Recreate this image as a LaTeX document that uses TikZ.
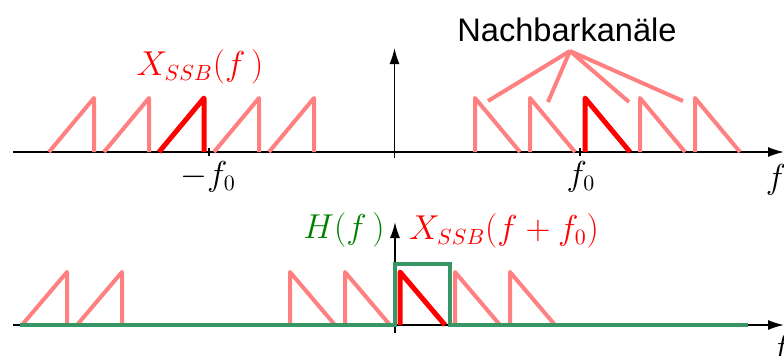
\documentclass[tikz,border=0pt]{standalone}
\usepackage{amsmath, amssymb}
\usepackage{fontspec}
\setsansfont{Liberation Sans}
\usetikzlibrary{arrows, arrows.meta, positioning, calc}

\definecolor{pinkline}{RGB}{255,128,128}
\definecolor{filtgreen}{RGB}{56,150,100}
\definecolor{labgreen}{RGB}{0,128,0}

\begin{document}
\begin{tikzpicture}[x=0.5pt,y=-0.5pt]

\tikzset{axis/.style = {line width=0.75pt,-{Latex[length=8pt,width=5pt]}}}
\tikzset{chan/.style = {pinkline,line width=2pt,line join=round}}
\tikzset{own/.style = {red,line width=2.5pt,line join=round}}
\tikzset{filt/.style = {filtgreen,line width=2pt}}
\tikzset{lab/.style = {font=\fontsize{16}{19}\selectfont,inner sep=0pt}}

\useasboundingbox (0,0) rectangle (784,355);

% axes
\coordinate (ux0) at (13,152);
\coordinate (ux1) at (784,152);
\coordinate (uy0) at (394.5,158);
\coordinate (uy1) at (394.5,48);
\coordinate (lx0) at (13,325);
\coordinate (lx1) at (784,325);
\coordinate (ly0) at (395,333);
\coordinate (ly1) at (395,222);

\draw[axis] (ux0) -- (ux1);
\draw[axis] (uy0) -- (uy1);
\draw[axis] (lx0) -- (lx1);
\draw[axis] (ly0) -- (ly1);

% ticks
\coordinate (mf0) at (209,152);
\coordinate (pf0) at (580,152);
\draw[line width=0.75pt] ([yshift=2pt]mf0) -- ([yshift=-2pt]mf0);
\draw[line width=0.75pt] ([yshift=2pt]pf0) -- ([yshift=-2pt]pf0);

% upper spectrum, negative side
\draw[chan] (49,152) -- (94,98) -- (94,152);
\draw[chan] (104,152) -- (149,98) -- (149,152);
\draw[own] (159,152) -- (204,98) -- (204,152);
\draw[chan] (214,152) -- (259,98) -- (259,152);
\draw[chan] (269,152) -- (314,98) -- (314,152);

% upper spectrum, positive side
\draw[chan] (475,152) -- (475,98) coordinate (n1) -- (520,152);
\draw[chan] (530,152) -- (530,98) coordinate (n2) -- (575,152);
\draw[own] (585,152) -- (585,98) -- (630,152);
\draw[chan] (640,152) -- (640,98) coordinate (n3) -- (685,152);
\draw[chan] (695,152) -- (695,98) coordinate (n4) -- (740,152);

% lower spectrum
\draw[chan] (22,325) -- (67,272) -- (67,325);
\draw[chan] (77,325) -- (122,272) -- (122,325);
\draw[chan] (290,325) -- (290,272) -- (335,325);
\draw[chan] (345,325) -- (345,272) -- (390,325);
\draw[own] (400,325) -- (400,272) -- (445,325);
\draw[chan] (455,325) -- (455,272) -- (500,325);
\draw[chan] (510,325) -- (510,272) -- (555,325);

% filter
\draw[filt] (20,325) -- (395,325) -- (395,264) -- (450,264) -- (450,325) -- (748,325);

% labels
\node[lab,font=\sffamily\fontsize{16.3}{19}\selectfont] (nach) at (567,30) {Nachbarkanäle};
\coordinate (hub) at (570,51);
\draw[chan] (hub) -- ($(n1)+(13,3)$);
\draw[chan] (hub) -- ($(n2)+(18,4)$);
\draw[chan] (hub) -- ($(n3)+(-11,4)$);
\draw[chan] (hub) -- ($(n4)+(-12,3)$);

\node[lab,red] (xssb) at (200,67) {$X_{SSB}(f\,)$};
\node[lab] (lmf0) at (208,177) {$-f_0$};
\node[lab] (lpf0) at (581,177) {$f_0$};
\node[lab] (uf) at (776,180) {$f$};
\node[lab,labgreen] (hf) at (344,230) {$H(f\,)$};
\node[lab,red] (xsh) at (504,231) {$X_{SSB}(f+f_0)$};
\node[lab] (lf) at (781,350) {$f$};

\end{tikzpicture}
\end{document}
